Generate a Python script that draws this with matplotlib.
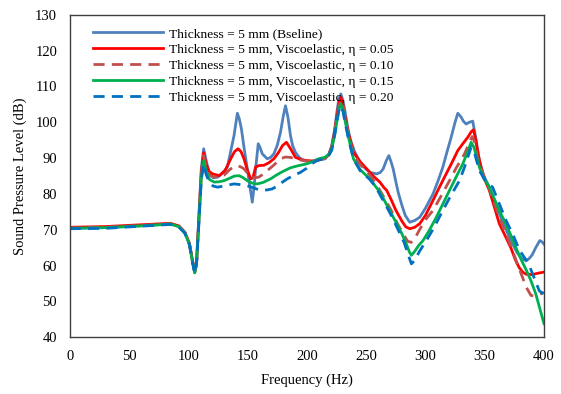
import matplotlib
matplotlib.use("Agg")
import matplotlib.pyplot as plt

# (frequency in Hz, SPL in dB)
f_base = [0, 30, 60, 85, 92, 97, 101, 103.5, 105.5, 107, 109, 111, 113, 115, 117.5, 121, 125, 129,
          133, 136.5, 138.6, 141.4, 143, 144.8, 147, 149.8, 152, 154, 155.5, 156.8, 159, 160.5, 162.4,
          166.6, 169.5, 172.2, 175, 177.8, 180, 182, 184, 186.2, 188, 190.4, 193.5, 197.3, 203, 208.5,
          215.5, 218.5, 221, 223.5, 225.3, 227, 228.7, 230.5, 232.3, 234.5, 236.5, 240, 244.9, 249,
          253.2, 258.9, 262, 264.4, 267, 269.2, 271, 272.8, 275, 277, 280, 283, 286.8, 291, 295.2, 300,
          306.4, 310.5, 314.7, 318, 321.7, 325, 327.3, 330, 332, 334.3, 337, 339.9, 342, 345.5, 349,
          353.9, 358, 362.3, 367, 372, 377, 381, 384, 387, 390, 393, 396.4, 398.5, 400]
spl_base = [70.4, 70.6, 71.1, 71.6, 70.9, 69.3, 66, 61.5, 58, 61, 74, 87, 92.6, 89.5, 86, 84.5, 84.7, 85.8,
            87.5, 93, 96.3, 102.5, 101, 98.2, 93, 87, 82, 77.7, 82, 87, 94, 93, 91.2,
            89.8, 90.2, 91.2, 93.5, 97.2, 101.5, 104.6, 101.5, 96.3, 93.5, 91.6, 90.2, 89.3, 88.9, 89.5,
            89.8, 91, 93.5, 98, 102.8, 106.5, 107.9, 106, 102.8, 98.5, 95.4, 92, 88.9, 87.2,
            86, 85.6, 86, 87, 89.3, 90.7, 89, 87, 83.5, 80.5, 77, 74, 72.1, 72.6, 73.5, 76,
            80, 83.5, 87.5, 91.5, 95.8, 100, 102.5, 101.5, 100.3, 99.5, 100, 100.3, 96.5, 89.3, 85.2,
            81.9, 78, 74.5, 70.8, 67, 63.8, 62, 61.5, 61.8, 63, 65, 67, 66.6, 66]

f_e05 = [0, 30, 60, 85, 92, 97, 101, 103.5, 105.5, 107, 109, 111, 113, 115, 117.5, 120.5, 126, 131,
         135.8, 139, 142, 144.5, 147, 150, 152.6, 154.5, 156.8, 159.5, 163.8, 168, 172.2, 176, 179.5,
         182.8, 186.5, 190.4, 195, 200, 205, 210, 215, 218.5, 221, 223.5, 225.5, 227, 228.7, 230.5,
         232.5, 235, 239.3, 244.9, 250.5, 256, 261.6, 265, 267.3, 271, 275, 280, 283.5, 286.8, 291,
         295.2, 300, 306.4, 312, 317.5, 322, 327.3, 331.5, 335.7, 338.5, 340.5, 342.5, 344.5, 346.9,
         350, 353.9, 358, 362.3, 367, 372, 376, 379, 382, 385, 390, 395, 400]
spl_e05 = [70.7, 70.9, 71.4, 71.8, 71.1, 69.4, 66.2, 61.5, 58.3, 61, 73.5, 86, 91.5, 88.5, 86.3, 85.6, 85.1, 86.5,
           89.8, 91.8, 92.6, 91.8, 89.8, 86.5, 84.2, 84.5, 87.5, 87.9, 88, 88.7, 89.8, 91.5, 93.5,
           94.4, 92.5, 90.2, 89.6, 89.3, 89.2, 89.5, 90, 91, 93, 97.5, 102, 105.2, 107, 105,
           101, 97, 91.6, 89, 87, 85, 83.3, 81.8, 81, 78.5, 75.5, 72.5, 70.8, 70.3, 70.7,
           71.7, 74, 78.2, 82, 85.6, 88.5, 92.1, 94, 95.8, 97.3, 97.9, 95, 91, 87.5,
           84, 81, 76.5, 71.7, 68.5, 65, 61.5, 59.5, 58.2, 57.6, 57.5, 57.9, 58.2]

f_e10 = [0, 30, 60, 85, 92, 97, 101, 103.5, 105.5, 107, 109, 111, 113, 115, 118, 121.9, 126, 130.4,
         135, 140, 144, 147, 150, 152.6, 156, 159.6, 163, 166.6, 172, 177.8, 182, 186.2, 191, 197.3,
         203, 209, 215, 218.5, 221, 223.5, 225.5, 227, 228.7, 230.5, 232.5, 235, 239.3, 244.9, 250,
         255, 261.6, 266, 271, 276, 281, 285, 288, 291, 295, 300, 306.4, 313, 320.3, 326, 330, 333,
         336, 339.4, 341.5, 344, 346.9, 350, 353.9, 358, 362.3, 367, 372, 377, 381, 385, 389, 392,
         396, 400]
spl_e10 = [70.5, 70.7, 71.2, 71.7, 71, 69.3, 66.1, 61.4, 58.2, 61, 73.2, 85.3, 90.7, 87.5, 85.2, 84.7, 84.8, 85.3,
           86.8, 87.9, 87.6, 87, 85.8, 84.7, 84.5, 84.7, 85.5, 86.5, 88, 89.8, 90.3, 90.2, 89.7, 89.3,
           89.1, 89.4, 89.9, 91, 93, 97.5, 101.5, 104.5, 106, 104.5, 101, 96.5, 91, 88.2, 86.5,
           84.5, 81, 78.5, 75.5, 72, 69, 66.8, 66.5, 67.5, 70, 72.8, 75.4, 79.3, 83.7, 87.3, 89.5, 91.2,
           93.5, 96, 94.5, 90, 87, 84.5, 81.5, 77.5, 73.5, 69.5, 65.5, 61, 57.5, 54, 51.7, 51.5,
           52, 52.5]

f_e15 = [0, 30, 60, 85, 92, 97, 101, 103.5, 105.5, 107, 109, 111, 113, 115, 118, 121.9, 126, 130.2,
         135, 139, 142.8, 146, 149.8, 154, 158.2, 163, 169.4, 175, 180, 186.2, 193, 200, 205, 210, 215,
         218.5, 221, 223.5, 225.5, 227, 228.7, 230.5, 232.5, 235, 239.3, 244.9, 249, 253.2, 257, 261.6,
         266, 270, 275, 280, 284, 286.5, 288.2, 291, 294, 298, 303, 309.2, 314.7, 320.3, 326, 331.5,
         336, 338.5, 341, 343, 345.5, 349, 353.9, 358, 362.3, 367, 372, 377, 381, 385, 389, 393,
         396.5, 400]
spl_e15 = [70.4, 70.6, 71.1, 71.6, 70.9, 69.2, 65.9, 61.2, 58, 60.8, 72.5, 84.5, 89.3, 86.5, 84, 83.3, 83.4, 83.7,
           84.4, 85, 85.1, 84.6, 83.7, 83, 82.8, 83.2, 84.2, 85.4, 86.3, 87.3, 87.9, 88.4, 89, 89.8, 90.2,
           91, 92.5, 96.5, 100.5, 103.5, 105.1, 103.5, 100, 96, 89.8, 86.8, 85.5, 84.2, 82.5, 80.5,
           77.8, 75.3, 72.2, 69, 66, 63.8, 62.9, 64, 65.5, 67, 69.7, 73.5, 77.2, 81, 84.8, 88.4,
           92, 94.4, 93, 90.5, 87.5, 84.5, 81.9, 78.7, 75.4, 72.2, 68.5, 64.5, 61.5, 58.8, 55.8, 52.2,
           48, 43.8]

f_e20 = [0, 30, 60, 85, 92, 97, 101, 103.5, 105.5, 107, 109, 111, 113, 115, 118, 121, 124.7, 130,
         134, 138.6, 144, 149.8, 155, 161, 166, 170.8, 175, 179, 183.4, 189, 194.5, 200, 204, 208.5,
         214, 218.5, 221, 223.5, 225.5, 227, 228.7, 230.5, 232.5, 235, 239.3, 244.9, 249, 253.2, 258,
         263, 268, 272, 277, 282, 286, 288.2, 291, 295, 300.8, 307, 314.7, 321, 328.7, 333, 336,
         338.5, 341, 343, 345.5, 350, 356.6, 362, 368, 374, 379, 383, 387, 390, 393, 396, 400]
spl_e20 = [70.3, 70.4, 71, 71.5, 70.8, 69.1, 65.8, 61, 57.8, 60.5, 72, 84, 88.4, 85.5, 83, 82.2, 81.9, 82.2,
           82.5, 82.8, 82.6, 82.3, 81.7, 81, 81.1, 81.4, 82.2, 83.2, 84.2, 85.2, 86, 87.2, 88.4, 89.3,
           89.8, 90.7, 92.2, 96.5, 100.5, 103.2, 104.6, 103, 99.5, 95.5, 89.8, 86.5, 85.3, 84, 82,
           79, 76, 73.5, 70, 66.5, 62.5, 60.5, 61.5, 64, 67, 70.5, 75.4, 79.3, 83.7, 87.5, 90.5,
           93, 92, 89.5, 86.5, 84, 81.9, 77.5, 72.6, 68.5, 64.5, 62.5, 60.5, 58, 55.5, 53, 52]

labels = [
    "Thickness = 5 mm (Bseline)",
    "Thickness = 5 mm, Viscoelastic, η = 0.05",
    "Thickness = 5 mm, Viscoelastic, η = 0.10",
    "Thickness = 5 mm, Viscoelastic, η = 0.15",
    "Thickness = 5 mm, Viscoelastic, η = 0.20",
]

plt.rcParams["font.family"] = ["Liberation Serif", "DejaVu Serif"]

fig = plt.figure(figsize=(5.61, 3.94), dpi=100)
ax = fig.add_axes([0.1242, 0.1438, 0.8455, 0.8189])

lw = 2.0
dash = (4, 2.6)
ax.plot(f_base, spl_base, color="#4F81BD", lw=lw, label=labels[0])
ax.plot(f_e05, spl_e05, color="#FF0000", lw=lw, label=labels[1])
ax.plot(f_e10, spl_e10, color="#C0504D", lw=lw, dashes=dash, label=labels[2])
ax.plot(f_e15, spl_e15, color="#00B050", lw=lw, label=labels[3])
ax.plot(f_e20, spl_e20, color="#0070C0", lw=lw, dashes=dash, label=labels[4])

ax.set_xlim(0, 400)
ax.set_ylim(40, 130)
ax.set_xticks(range(0, 401, 50))
ax.set_yticks(range(40, 131, 10))
ax.tick_params(length=0, labelsize=10.5, pad=9)
for side in ["left", "bottom", "top", "right"]:
    ax.spines[side].set_color("#404040")
    ax.spines[side].set_linewidth(1.0)

ax.set_xlabel("Frequency (Hz)", fontsize=10.5, labelpad=8)
ax.set_ylabel("Sound Pressure Level (dB)", fontsize=10.5, labelpad=6)

ax.legend(loc="upper left", bbox_to_anchor=(0.03, 0.99), frameon=False, fontsize=9.7,
          handlelength=5.2, handletextpad=0.45, labelspacing=0.27, borderaxespad=0.3)

fig.savefig("out.png", dpi=100)
